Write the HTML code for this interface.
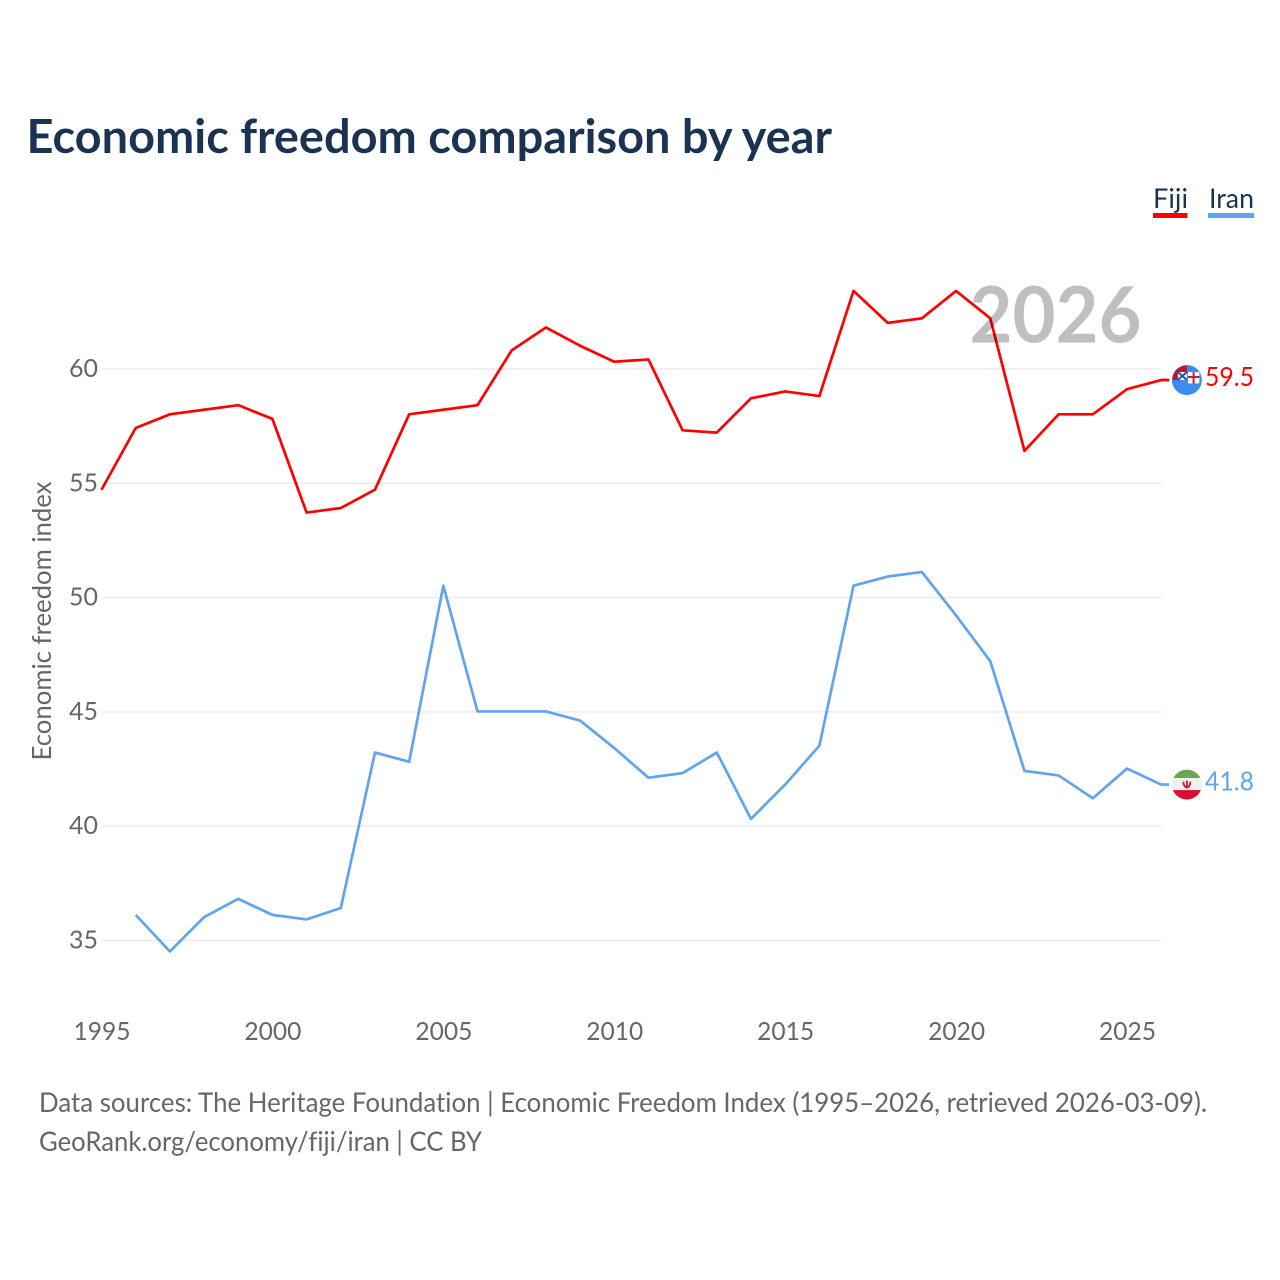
<!DOCTYPE html>
<html lang="en">
<head>
<meta charset="utf-8">
<title>Economic freedom comparison by year</title>
<style>
html,body{margin:0;padding:0;background:#fff;}
svg{display:block;}
text{font-family:"Lato","Carlito","Liberation Sans",sans-serif;font-variant-ligatures:none;}
</style>
</head>
<body>
<svg id="chart" xmlns="http://www.w3.org/2000/svg" width="1280" height="1280" viewBox="0 0 1280 1280">
  <rect width="1280" height="1280" fill="#fff"/>
  <text x="26.500" y="153" font-size="47" font-weight="700" fill="#1a3353" textLength="805.500" lengthAdjust="spacingAndGlyphs">Economic freedom comparison by year</text>

  <g>
    <g>
      <text x="1153" y="208" font-size="27" fill="#1a3353" textLength="35" lengthAdjust="spacingAndGlyphs">Fiji</text>
      <rect x="1153" y="213" width="34.500" height="5" fill="#ff0000"/>
    </g>
    <g>
      <text x="1209" y="208" font-size="27" fill="#1a3353" textLength="45" lengthAdjust="spacingAndGlyphs">Iran</text>
      <rect x="1208" y="213" width="46" height="5" fill="#5fa5ee"/>
    </g>
  </g>

  <g id="grid"></g>
  <g id="y-ticks"></g>
  <g id="x-ticks"></g>

  <text transform="translate(51,621) rotate(-90)" text-anchor="middle" font-size="26" fill="#666666" textLength="279" lengthAdjust="spacingAndGlyphs">Economic freedom index</text>

  <g id="series"></g>

  <text id="year-watermark" x="969.500" y="342.700" font-size="78" font-weight="700" fill="#000000" fill-opacity="0.25" textLength="172" lengthAdjust="spacingAndGlyphs">2026</text>

  <defs>
    <clipPath id="clip-fiji"><circle r="14.500" cx="0" cy="0"/></clipPath>
    <clipPath id="clip-iran"><circle r="15" cx="0" cy="0"/></clipPath>
  </defs>

  <g id="marker-fiji">
    <circle cx="0" cy="0" r="15" fill="#3a8df0"/>
    <rect x="-14" y="-14" width="14" height="14" fill="#c8102e" clip-path="url(#clip-fiji)"/>
    <rect x="-9" y="-8" width="9" height="8" fill="#fff"/>
    <path d="M-9 -8 L0 0 M0 -8 L-9 0" stroke="#2b4fa3" stroke-width="2" fill="none"/>
    <rect x="1" y="-8" width="11.500" height="11.500" rx="1" fill="#fff"/>
    <path d="M6.700 -8 v11.500 M1 -3 h11.500" stroke="#b5283c" stroke-width="2" fill="none"/>
  </g>
  <g id="marker-iran">
    <g clip-path="url(#clip-iran)">
      <rect x="-15" y="-15" width="30" height="8.500" fill="#6aa84f"/>
      <rect x="-15" y="-6.500" width="30" height="12" fill="#f0f0f0"/>
      <rect x="-15" y="5.500" width="30" height="10" fill="#d90f2d"/>
    </g>
    <path d="M-3.500 -3 q0 5 3.500 6 q3.500 -1 3.500 -6 M0 -4 v7" stroke="#d90f2d" stroke-width="1.800" fill="none"/>
  </g>

  <text id="label-fiji" x="1205" font-size="26" fill="#ff0000" textLength="49" lengthAdjust="spacingAndGlyphs"></text>
  <text id="label-iran" x="1205" font-size="26" fill="#5fa5ee" textLength="49" lengthAdjust="spacingAndGlyphs"></text>

  <g>
    <text x="39" y="1112" font-size="27" fill="#666666" textLength="1168" lengthAdjust="spacingAndGlyphs">Data sources: The Heritage Foundation | Economic Freedom Index (1995–2026, retrieved 2026-03-09).</text>
    <text x="39" y="1151" font-size="27" fill="#666666" textLength="443" lengthAdjust="spacingAndGlyphs">GeoRank.org/economy/fiji/iran | CC BY</text>
  </g>
</svg>
<script>
var years = [1995,1996,1997,1998,1999,2000,2001,2002,2003,2004,2005,2006,2007,2008,2009,2010,2011,2012,2013,2014,2015,2016,2017,2018,2019,2020,2021,2022,2023,2024,2025,2026];
var fijiValues = [54.7,57.4,58.0,58.2,58.4,57.8,53.7,53.9,54.7,58.0,58.2,58.4,60.8,61.8,61.0,60.3,60.4,57.3,57.2,58.7,59.0,58.8,63.4,62.0,62.2,63.4,62.2,56.4,58.0,58.0,59.1,59.5];
var iranValues = [null,36.1,34.5,36.0,36.8,36.1,35.9,36.4,43.2,42.8,50.5,45.0,45.0,45.0,44.6,43.4,42.1,42.3,43.2,40.3,41.8,43.5,50.5,50.9,51.1,49.2,47.2,42.4,42.2,41.2,42.5,41.8];
var yTickValues = [35,40,45,50,55,60];
var xTickValues = [1995,2000,2005,2010,2015,2020,2025];

var NS = 'http://www.w3.org/2000/svg';
function xScale(year){ return 101.5 + (year - 1995) * (1127 - 101.5) / 30; }
function yScale(value){ return 940 - (value - 35) * (940 - 368.6) / 25; }
function make(tag, attrs, parent){
  var el = document.createElementNS(NS, tag);
  for (var k in attrs) el.setAttribute(k, attrs[k]);
  parent.appendChild(el);
  return el;
}
var grid = document.getElementById('grid');
var yTicks = document.getElementById('y-ticks');
var xTicks = document.getElementById('x-ticks');
var seriesGroup = document.getElementById('series');

yTickValues.forEach(function(v){
  var line = make('line', {x1:102, x2:1161.5, y1:yScale(v) + 0.4, y2:yScale(v) + 0.4, stroke:'#ebebeb', 'stroke-width':1.5}, grid);
  
  
  var t = make('text', {x:98, y:yScale(v) + 8.4, 'text-anchor':'end', 'font-size':25, fill:'#666666', textLength:29, lengthAdjust:'spacingAndGlyphs'}, yTicks);
  t.textContent = v;
  
  
});
xTickValues.forEach(function(v){
  var t = make('text', {x:xScale(v) + 0.5, y:1040, 'text-anchor':'middle', 'font-size':25, fill:'#666666', textLength:57, lengthAdjust:'spacingAndGlyphs'}, xTicks);
  t.textContent = v;
  
  
});
function linePath(values){
  var d = '', started = false;
  values.forEach(function(v, i){
    if (v === null) return;
    d += (started ? 'L' : 'M') + xScale(years[i]).toFixed(2) + ' ' + yScale(v).toFixed(2);
    started = true;
  });
  return d;
}
function lastOf(values){ return values[values.length - 1]; }
var lastYear = lastOf(years);

var fijiLine = make('path', {d:linePath(fijiValues) + 'h8', fill:'none', stroke:'#ff0000', 'stroke-width':2.7, 'stroke-linejoin':'round'}, seriesGroup);


var iranLine = make('path', {d:linePath(iranValues) + 'h8', fill:'none', stroke:'#5fa5ee', 'stroke-width':2.7, 'stroke-linejoin':'round'}, seriesGroup);



var markerX = xScale(lastYear) + 25.7;
document.getElementById('marker-fiji').setAttribute('transform', 'translate(' + markerX + ',' + yScale(lastOf(fijiValues)) + ')');
document.getElementById('marker-iran').setAttribute('transform', 'translate(' + markerX + ',' + yScale(lastOf(iranValues)) + ')');
var labelFiji = document.getElementById('label-fiji');
labelFiji.setAttribute('y', yScale(lastOf(fijiValues)) + 6);
labelFiji.textContent = lastOf(fijiValues).toFixed(1);
var labelIran = document.getElementById('label-iran');
labelIran.setAttribute('y', yScale(lastOf(iranValues)) + 6);
labelIran.textContent = lastOf(iranValues).toFixed(1);
</script>
</body>
</html>
